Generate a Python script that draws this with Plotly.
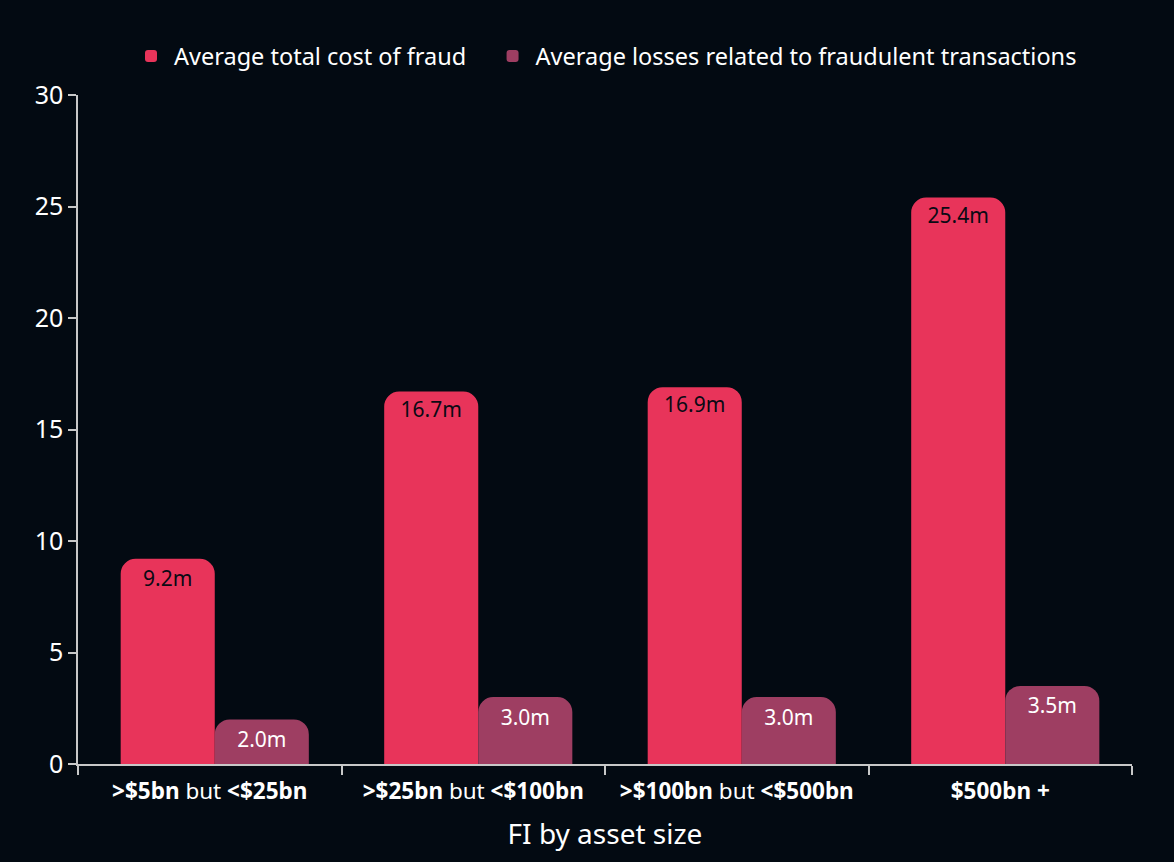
import plotly.graph_objects as go

categories = [
    "<b>&gt;$5bn</b> but <b>&lt;$25bn</b>",
    "<b>&gt;$25bn</b> but <b>&lt;$100bn</b>",
    "<b>&gt;$100bn</b> but <b>&lt;$500bn</b>",
    "<b>$500bn +</b>",
]
total_cost = [9.2, 16.7, 16.9, 25.4]
losses = [2.0, 3.0, 3.0, 3.5]
series_names = ["Average total cost of fraud\u00a0\u00a0\u00a0",
                "Average losses related to fraudulent transactions"]
y_ticks = [0, 5, 10, 15, 20, 25, 30]

FONT = "Noto Sans"
BG = "#030a12"
RED = "#e8345a"
PURPLE = "#9e3e62"
BAR_W = 0.357
SHIFT = 0.019

fig = go.Figure()
fig.add_trace(go.Bar(
    x=categories, y=total_cost, name=series_names[0],
    marker=dict(color=RED, line=dict(width=0)),
    width=BAR_W, offset=-BAR_W + SHIFT,
    text=[f"{v:.1f}m" for v in total_cost],
    textposition="inside", insidetextanchor="end",
    textfont=dict(family=FONT, size=21, color="#0a0a14"),
    textangle=0,
))
fig.add_trace(go.Bar(
    x=categories, y=losses, name=series_names[1],
    marker=dict(color=PURPLE, line=dict(width=0)),
    width=BAR_W, offset=SHIFT,
    text=[f"{v:.1f}m" for v in losses],
    textposition="inside", insidetextanchor="end",
    textfont=dict(family=FONT, size=21, color="#ffffff"),
    textangle=0,
))

fig.update_layout(
    width=1174, height=862,
    paper_bgcolor=BG, plot_bgcolor=BG,
    font=dict(family=FONT, color="#ffffff"),
    barmode="group", bargap=0.285, bargroupgap=0,
    barcornerradius=15,
    margin=dict(l=78, r=42, t=95, b=98),
    legend=dict(
        orientation="h", x=0.5, xanchor="center", y=1.025, yanchor="bottom",
        font=dict(family=FONT, size=23.5, color="#ffffff"),
        bgcolor="rgba(0,0,0,0)", itemwidth=36,
    ),
    showlegend=True,
)
fig.update_xaxes(
    showline=True, linecolor="#c8c8c8", linewidth=1.5,
    ticks="outside", tickson="boundaries", ticklen=9, tickcolor="#c8c8c8", tickwidth=1.5,
    tickfont=dict(family=FONT, size=22.5, color="#ffffff"),
    ticklabelstandoff=6,
    showgrid=False, zeroline=False,
    title=dict(text="FI by asset size", font=dict(family=FONT, size=28, color="#ffffff"), standoff=20),
)
fig.update_yaxes(
    range=[0, 30], tickvals=y_ticks,
    showline=True, linecolor="#c8c8c8", linewidth=1.5,
    ticks="outside", ticklen=8, tickcolor="#c8c8c8", tickwidth=1.5,
    tickfont=dict(family=FONT, size=25, color="#ffffff"),
    showgrid=False, zeroline=False,
)

fig.write_html(
    "out.html",
    config={"displayModeBar": False},
    post_script="document.body.style.margin='0';document.body.style.background='#030a12';",
)
